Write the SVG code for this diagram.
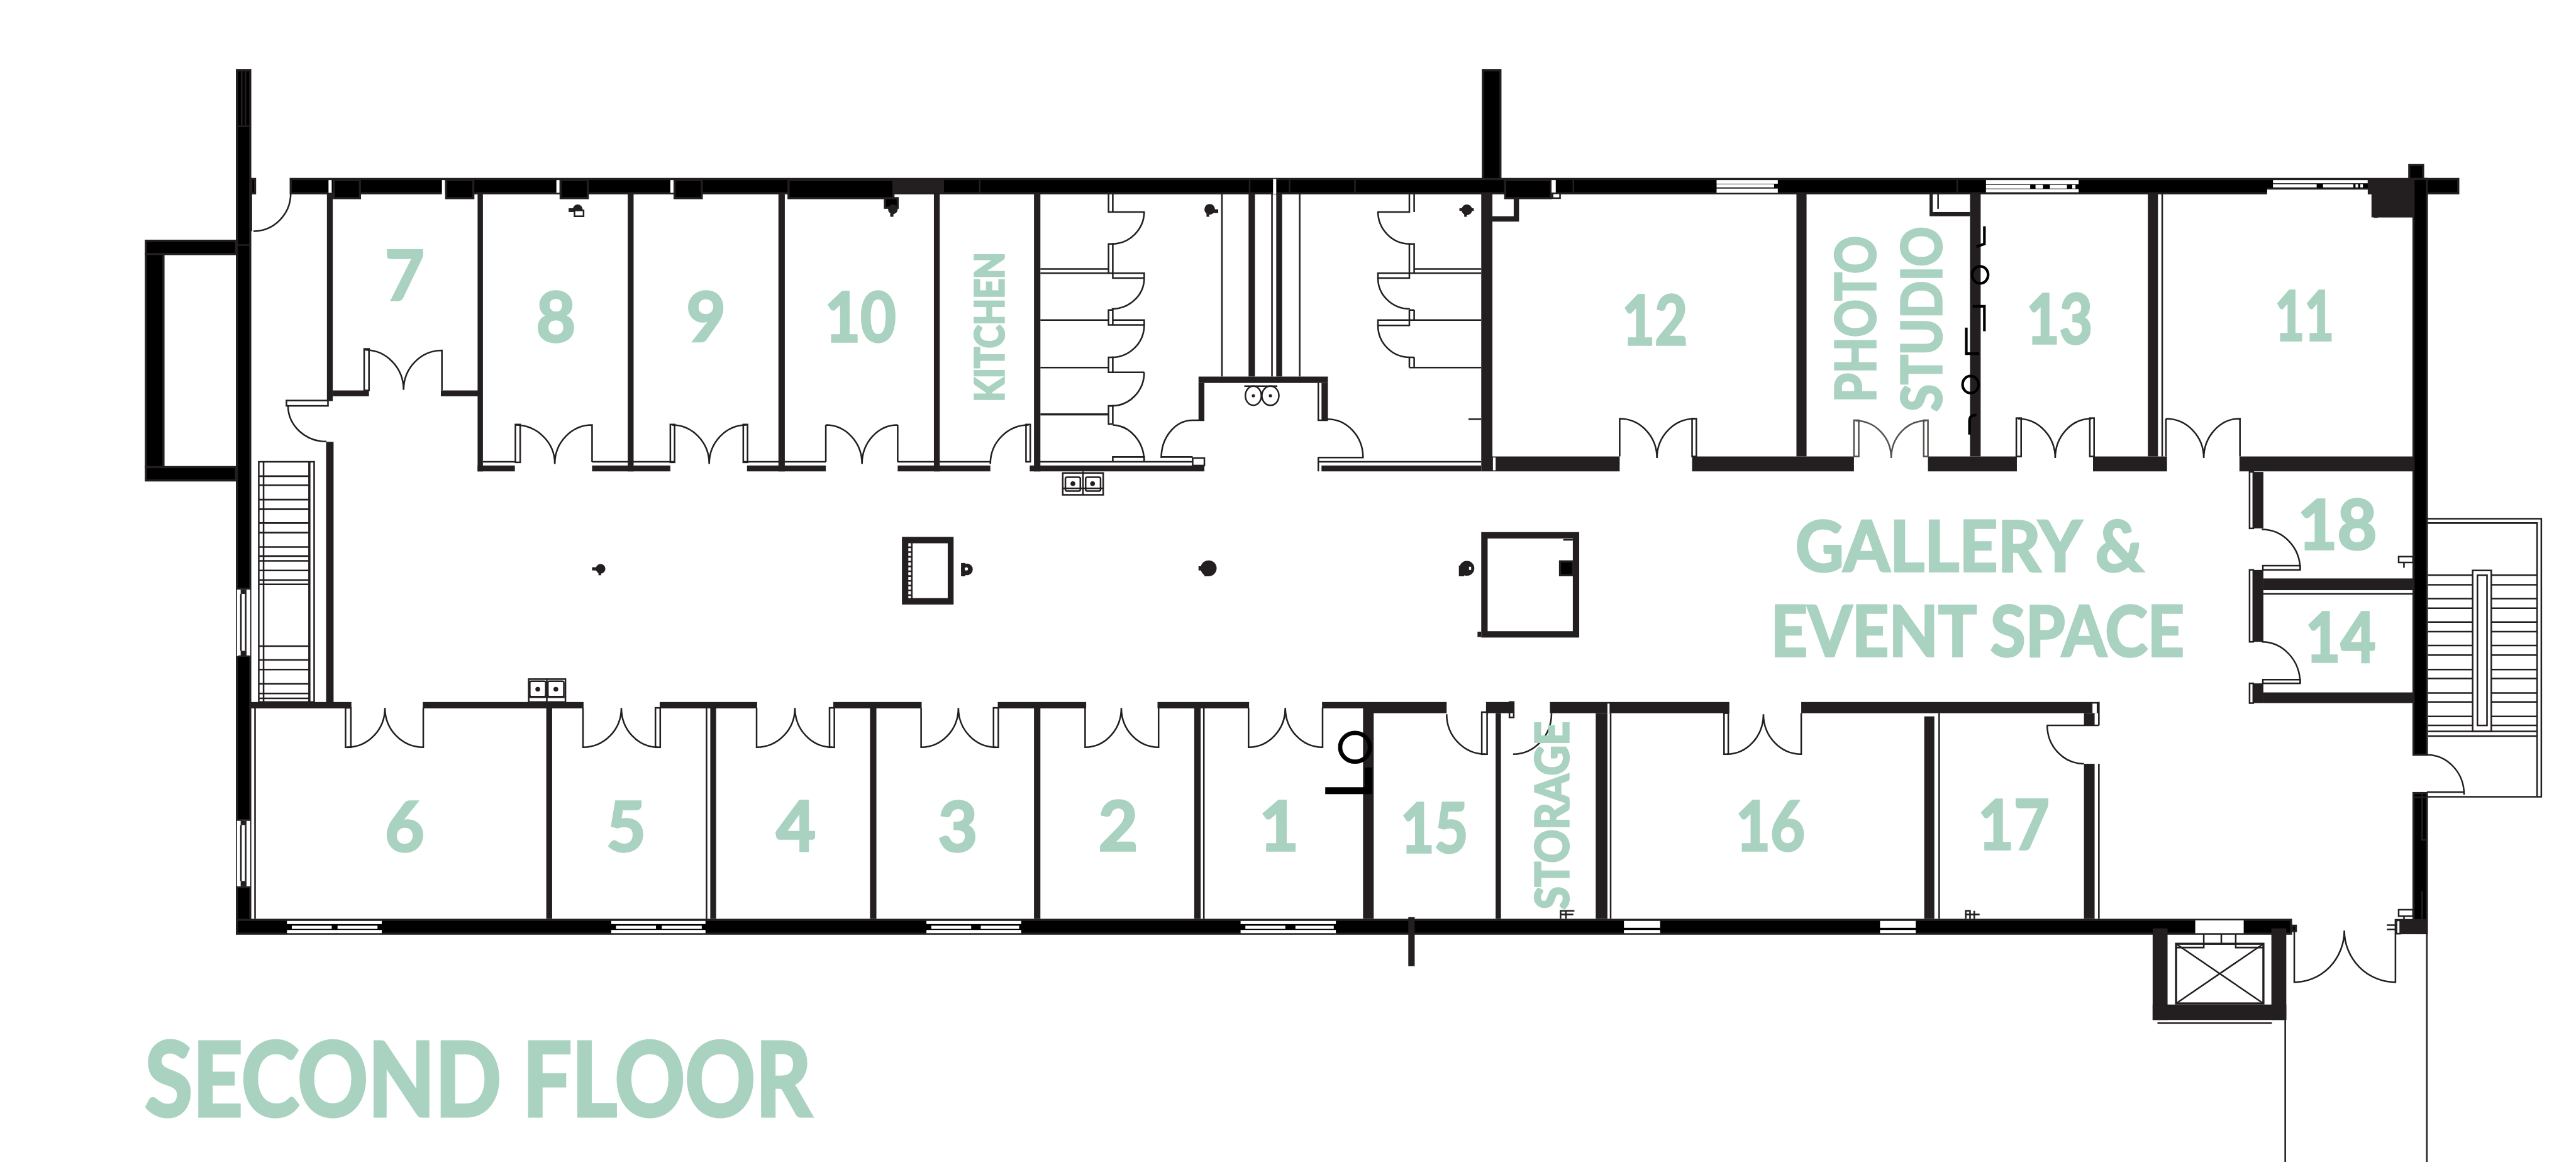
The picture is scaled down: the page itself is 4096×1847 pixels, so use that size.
<svg xmlns="http://www.w3.org/2000/svg" width="4096" height="1847" viewBox="0 0 4096 1847">
<style>
.w{fill:#231f20}
.b{fill:#000;stroke:#231f20;stroke-width:4}
.h{fill:#fff}
.l{fill:none;stroke:#231f20;stroke-width:3}
.t{stroke:#231f20;stroke-width:3;fill:#fff}
.g{fill:none;stroke:#000;stroke-width:5}
.x{font-family:"Lato","Open Sans",sans-serif;font-weight:700;fill:#a9d2c0;stroke:#a9d2c0;stroke-width:4;text-anchor:middle}
.n{font-size:128px}
</style>
<rect width="4096" height="1847" fill="#fff"/>
<g transform="scale(0.84661)">
<g id="outer-walls">
<rect class="b" x="445" y="132" width="25" height="1620"/>
<path class="l" d="M454 132V237M461 132V237M445 237H470M445 460H470"/>
<rect class="b" x="274" y="452" width="169" height="25"/>
<rect class="b" x="274" y="477" width="33" height="400"/>
<rect class="b" x="274" y="877" width="169" height="25"/>
<rect class="b" x="472" y="336" width="7" height="27"/>
<rect class="b" x="546" y="336" width="4071" height="27"/>
<rect class="b" x="4525" y="310" width="26" height="26"/>
<rect class="b" x="2785" y="132" width="33" height="204"/>
<rect class="b" x="4533" y="336" width="25" height="1081"/>
<rect class="b" x="4533" y="1489" width="25" height="263"/>
<path class="l" d="M4533 1497H4558M4549 1489V1577H4558M4549 1673V1733H4533"/>
<rect class="b" x="445" y="1727" width="3858" height="26"/>
<rect class="b" x="4305" y="1738" width="7" height="10"/>
<rect class="w" x="2645" y="1722" width="12" height="92"/>
<rect class="h" x="617" y="338" width="6" height="24"/>
<rect class="b" x="627" y="338" width="49" height="34"/>
<rect class="h" x="830" y="338" width="6" height="34"/>
<rect class="b" x="838" y="338" width="51" height="34"/>
<rect class="h" x="1045" y="338" width="6" height="24"/>
<rect class="b" x="1053" y="338" width="51" height="34"/>
<rect class="h" x="1259" y="338" width="6" height="24"/>
<rect class="b" x="1267" y="338" width="51" height="34"/>
<rect class="b" x="1481" y="338" width="197" height="34"/>
<rect class="b" x="1662" y="372" width="24" height="18"/>
<rect class="w" x="1679" y="336" width="94" height="27"/>
<rect class="h" x="2391" y="336" width="6" height="28"/>
<path class="l" d="M1840 336V363M2347 336V363M2422 336V363M2545 336V363M2955 336V363M3676 336V363"/>
<rect class="b" x="2827" y="338" width="86" height="34"/>
<rect class="h" x="2914" y="338" width="8" height="24"/>
<rect class="t" x="2916" y="363" width="14" height="9"/>
<rect class="h" x="3224" y="338" width="115" height="7"/>
<rect class="h" x="3224" y="346" width="108" height="6"/>
<rect class="h" x="3224" y="354" width="115" height="8"/>
<rect class="h" x="3730" y="338" width="174" height="8"/>
<rect class="h" x="3730" y="347" width="83" height="7"/>
<rect class="h" x="3823" y="347" width="14" height="7"/>
<rect class="h" x="3850" y="347" width="32" height="7"/>
<rect class="h" x="3892" y="347" width="6" height="7"/>
<rect class="h" x="3730" y="355" width="174" height="6"/>
<rect class="h" x="4269" y="338" width="178" height="6"/>
<rect class="h" x="4269" y="346" width="82" height="6"/>
<rect class="h" x="4363" y="346" width="57" height="6"/>
<rect class="h" x="4424" y="346" width="5" height="6"/>
<rect class="h" x="4433" y="346" width="5" height="6"/>
<rect class="h" x="4258" y="355" width="190" height="10"/>
<rect class="w" x="4258" y="353" width="190" height="3"/>
<rect class="w" x="4447" y="338" width="86" height="27"/>
<rect class="w" x="4454" y="363" width="79" height="45"/>
<rect class="b" x="4460" y="363" width="4" height="44"/>
<rect class="b" x="4466" y="402" width="66" height="4"/>
<g id="windows-south">
<rect class="h" x="539" y="1729" width="178" height="6"/><rect class="h" x="548" y="1738" width="75" height="6"/><rect class="h" x="634" y="1738" width="75" height="6"/><rect class="h" x="539" y="1746" width="178" height="6"/>
<rect class="h" x="1148" y="1729" width="177" height="6"/><rect class="h" x="1157" y="1738" width="75" height="6"/><rect class="h" x="1243" y="1738" width="75" height="6"/><rect class="h" x="1148" y="1746" width="177" height="6"/>
<rect class="h" x="1740" y="1729" width="178" height="6"/><rect class="h" x="1749" y="1738" width="75" height="6"/><rect class="h" x="1842" y="1738" width="72" height="6"/><rect class="h" x="1740" y="1746" width="178" height="6"/>
<rect class="h" x="2330" y="1729" width="179" height="6"/><rect class="h" x="2339" y="1738" width="75" height="6"/><rect class="h" x="2433" y="1738" width="72" height="6"/><rect class="h" x="2330" y="1746" width="179" height="6"/>
<rect class="h" x="3050" y="1729" width="68" height="13"/><rect class="h" x="3050" y="1746" width="68" height="6"/>
<rect class="h" x="3531" y="1729" width="67" height="13"/><rect class="h" x="3531" y="1746" width="67" height="6"/>
<rect class="h" x="4123" y="1728" width="91" height="24"/>
</g>
<g id="windows-west">
<rect class="h" x="445" y="1107" width="25" height="125"/>
<path class="l" d="M447 1105H469M447 1232H469"/>
<rect class="w" x="452" y="1107" width="11" height="8"/><rect class="w" x="452" y="1222" width="11" height="10"/>
<rect class="w" x="451" y="1115" width="3" height="107"/><rect class="w" x="460" y="1115" width="3" height="107"/>
<rect class="h" x="445" y="1541" width="25" height="123"/>
<path class="l" d="M447 1539H469M447 1666H469"/>
<rect class="w" x="452" y="1541" width="11" height="8"/><rect class="w" x="452" y="1654" width="11" height="10"/>
<rect class="w" x="451" y="1549" width="3" height="105"/><rect class="w" x="460" y="1549" width="3" height="105"/>
</g>
</g>
<g id="north-rooms">
<rect class="w" x="614" y="363" width="11" height="390"/>
<rect class="w" x="625" y="733" width="68" height="11"/>
<rect class="w" x="828" y="733" width="70" height="11"/>
<rect class="w" x="897" y="363" width="10" height="522"/>
<rect class="w" x="1179" y="363" width="11" height="522"/>
<rect class="w" x="1462" y="363" width="12" height="522"/>
<rect class="w" x="1754" y="363" width="11" height="522"/>
<rect class="w" x="1942" y="363" width="12" height="522"/>
<rect class="w" x="897" y="874" width="70" height="11"/>
<rect class="w" x="1112" y="874" width="147" height="11"/>
<rect class="w" x="1403" y="874" width="148" height="11"/>
<rect class="w" x="1686" y="874" width="174" height="11"/>
<rect class="w" x="1934" y="874" width="328" height="11"/>
<path class="l" d="M907 867H967M1112 867H1267M1396 867H1551M1686 867H1860M1942 867H2262"/>
<rect class="w" x="2482" y="874" width="300" height="11"/>
<path class="l" d="M2476 867H2782M2476 858V885"/>
<rect class="w" x="2345" y="363" width="12" height="344"/>
<rect class="w" x="2397" y="363" width="11" height="344"/>
<path class="l" d="M2295 363V707M2441 363V707M2389 363V707"/>
<rect class="w" x="2251" y="707" width="243" height="12"/>
<rect class="w" x="2251" y="719" width="11" height="70"/>
<rect class="w" x="2482" y="719" width="12" height="70"/>
<path class="l" d="M2476 719V789H2494"/>
<rect class="t" x="2240" y="860" width="22" height="14"/>
<rect class="w" x="2782" y="363" width="21" height="522"/>
<rect class="w" x="2803" y="857" width="239" height="28"/><rect class="h" x="2804" y="859" width="5" height="24"/>
<rect class="w" x="3178" y="857" width="304" height="28"/>
<rect class="w" x="3621" y="857" width="167" height="28"/>
<rect class="w" x="3931" y="857" width="139" height="28"/>
<rect class="w" x="4206" y="857" width="326" height="28"/>
<rect class="w" x="3374" y="363" width="19" height="494"/>
<rect class="w" x="3700" y="363" width="20" height="494"/>
<rect class="w" x="4034" y="363" width="19" height="494"/>
<path class="l" d="M4061 363V857"/>
<path class="w" d="M2843 372H2853V416H2803V406H2843Z"/>
<rect class="w" x="3624" y="363" width="6" height="43"/><rect class="w" x="3630" y="398" width="70" height="8"/>
<path class="l" d="M3640 363V392"/>
</g>
<g id="stalls">
<path class="l" d="M1954 505H2082M1954 513H2082M1954 601H2082M1954 690H2082"/>
<rect class="w" x="1954" y="776" width="128" height="4"/>
<path class="l" d="M2082 363V398H2149M2090 363V398M2149 397A61 61 0 0 1 2088 458"/>
<path class="l" d="M2082 458V513H2090V458Z"/>
<path class="l" d="M2090 513H2149V522H2090ZM2149 522A61 58 0 0 1 2088 580"/>
<path class="l" d="M2082 582V610H2090V582ZM2090 601H2149V610H2090ZM2149 610A61 61 0 0 1 2088 671"/>
<path class="l" d="M2082 671V699H2090V671ZM2082 699H2149M2149 699A61 63 0 0 1 2088 762"/>
<path class="l" d="M2082 762V796H2090V762ZM2090 798A61 69 0 0 1 2149 867M2090 867V858H2149V867"/>
<path class="l" d="M2656 505H2782M2656 513H2782M2647 601H2782M2647 690H2782"/>
<path class="l" d="M2647 363V398H2588M2656 363V398M2588 397A60 61 0 0 0 2648 458"/>
<path class="l" d="M2647 458V513H2656V458Z"/>
<path class="l" d="M2647 513H2588V522H2647ZM2588 522A60 58 0 0 0 2648 580"/>
<path class="l" d="M2647 582V601M2656 582V601M2647 582H2656M2647 601H2588V611H2647ZM2588 611A60 60 0 0 0 2648 671"/>
<path class="l" d="M2647 671V690M2656 671V690M2647 671H2656M2758 787H2782"/>
<ellipse class="l" cx="2354" cy="743" rx="15" ry="18"/><ellipse class="l" cx="2386" cy="743" rx="16" ry="18"/>
<path class="l" d="M2337 725H2399"/>
<circle class="w" cx="2354" cy="743" r="3"/><circle class="w" cx="2386" cy="743" r="3"/>
</g>
<g id="doors-north" class="l">
<path d="M476 434A70 71 0 0 0 546 363M472 363V434"/>
<path d="M541 762A72 67 0 0 0 613 829"/><rect x="538" y="752" width="78" height="10"/>
<rect class="w" x="614" y="831" width="11" height="490"/>
<path d="M686 657A72 75 0 0 1 758 732A72 74 0 0 1 830 658V733"/><rect x="684" y="655" width="9" height="78"/>
<path d="M968 798A74 73 0 0 1 1042 871A70 73 0 0 1 1112 798V867"/><rect x="968" y="797" width="9" height="71"/>
<path d="M1262 798A70 73 0 0 1 1332 871A70 73 0 0 1 1402 798"/><rect x="1259" y="797" width="8" height="71"/><rect x="1396" y="797" width="8" height="71"/>
<path d="M1551 798A68 73 0 0 1 1619 871A67 73 0 0 1 1686 798M1551 798V867M1686 798V867"/>
<path d="M1860 871A72 73 0 0 1 1932 798"/><rect x="1927" y="797" width="8" height="70"/>
<path d="M2181 860A59 71 0 0 1 2240 789H2262"/>
<path d="M2181 858H2240"/>
<path d="M2493 787A67 72 0 0 1 2560 859H2476"/>
<path d="M3042 857V786A70 74 0 0 1 3112 860A71 74 0 0 1 3183 786"/><rect x="3178" y="786" width="8" height="71"/>
<path d="M3485 790A67 70 0 0 1 3552 860A65 70 0 0 1 3617 790" stroke="#55514f"/><rect x="3482" y="789" width="9" height="68" stroke="#55514f"/><rect x="3613" y="789" width="8" height="68" stroke="#55514f"/>
<path d="M3790 786A70 74 0 0 1 3860 860A68 74 0 0 1 3928 786"/><rect x="3787" y="785" width="9" height="72"/><rect x="3925" y="785" width="8" height="72"/>
<path d="M4068 786A71 74 0 0 1 4139 860A68 74 0 0 1 4207 786V857M4068 786V857"/>
</g>
<g id="south-rooms">
<rect class="w" x="470" y="1318" width="190" height="12"/>
<rect class="w" x="794" y="1318" width="302" height="12"/>
<rect class="w" x="1239" y="1318" width="183" height="12"/>
<rect class="w" x="1565" y="1318" width="166" height="12"/>
<rect class="w" x="1874" y="1318" width="166" height="12"/>
<rect class="w" x="2174" y="1318" width="172" height="12"/>
<rect class="w" x="2483" y="1318" width="97" height="12"/>
<rect class="w" x="2579" y="1318" width="138" height="21"/>
<rect class="w" x="2791" y="1318" width="53" height="21"/>
<rect class="w" x="2911" y="1318" width="337" height="21"/>
<rect class="w" x="3383" y="1318" width="559" height="21"/>
<rect class="h" x="3019" y="1321" width="4" height="18"/>
<rect class="h" x="3930" y="1321" width="8" height="18"/>
<rect class="w" x="1026" y="1329" width="11" height="396"/>
<rect class="w" x="1334" y="1329" width="11" height="396"/>
<rect class="w" x="1634" y="1329" width="12" height="396"/>
<rect class="w" x="1942" y="1329" width="12" height="396"/>
<rect class="w" x="2243" y="1329" width="12" height="396"/>
<rect class="w" x="2560" y="1329" width="20" height="396"/>
<rect class="w" x="2809" y="1339" width="10" height="386"/>
<rect class="w" x="2997" y="1339" width="22" height="386"/>
<rect class="w" x="3614" y="1345" width="19" height="380"/>
<rect class="w" x="3914" y="1339" width="20" height="23"/>
<rect class="w" x="3914" y="1434" width="20" height="291"/>
<path class="l" d="M479 1329V1725M1327 1329V1725M2261 1329V1725M3025 1339V1725M3642 1339V1725M3942 1318V1362M3942 1434V1725"/>
<ellipse cx="2545" cy="1403" rx="28" ry="27" fill="none" stroke="#000" stroke-width="8"/>
<rect x="2489" y="1478" width="76" height="13" fill="#000"/><rect x="2563" y="1441" width="14" height="50" fill="#000"/>
<path class="l" d="M3844 1362H3942M3845 1362A69 72 0 0 0 3914 1434"/>
</g>
<g id="doors-south" class="l">
<path d="M652 1403A71 74 0 0 0 723 1329A72 74 0 0 0 795 1403V1329"/><rect x="649" y="1329" width="10" height="74"/>
<path d="M1095 1329V1403A72 74 0 0 0 1167 1329A69 74 0 0 0 1236 1403"/><rect x="1231" y="1329" width="9" height="74"/>
<path d="M1421 1329V1403A72 74 0 0 0 1493 1329A70 74 0 0 0 1563 1403"/><rect x="1558" y="1329" width="9" height="74"/>
<path d="M1730 1329V1403A70 74 0 0 0 1800 1329A70 74 0 0 0 1870 1403"/><rect x="1866" y="1329" width="9" height="74"/>
<path d="M2038 1329V1403A68 74 0 0 0 2106 1329A70 74 0 0 0 2176 1403V1329"/>
<path d="M2345 1329V1403A69 74 0 0 0 2414 1329A70 74 0 0 0 2484 1403V1329"/>
<path d="M2717 1341A73 75 0 0 0 2790 1416"/><rect x="2783" y="1337" width="10" height="79"/>
<path d="M2842 1416A72 77 0 0 0 2914 1339"/><rect x="2835" y="1318" width="8" height="29"/>
<path d="M3243 1416A69 75 0 0 0 3312 1341A71 75 0 0 0 3383 1416V1339"/><rect x="3238" y="1339" width="8" height="77"/>
</g>
<g id="east-rooms">
<rect class="w" x="4231" y="886" width="20" height="106"/><rect class="t" x="4225" y="886" width="7" height="106"/>
<path class="l" d="M4248 994A72 75 0 0 1 4320 1069"/><rect class="t" x="4250" y="1062" width="70" height="8"/>
<rect class="w" x="4231" y="1070" width="20" height="135"/><rect class="t" x="4225" y="1070" width="7" height="135"/>
<rect class="w" x="4251" y="1086" width="281" height="22"/><path class="l" d="M4251 1115H4532"/>
<path class="l" d="M4248 1205A72 78 0 0 1 4320 1283"/><rect class="t" x="4250" y="1276" width="70" height="7"/>
<rect class="w" x="4231" y="1283" width="20" height="37"/><rect class="t" x="4225" y="1283" width="7" height="37"/>
<rect class="w" x="4251" y="1300" width="281" height="20"/>
<path class="l" d="M4505 1045H4532V1056H4505ZM4515 1056V1066"/>
<path class="l" d="M4505 1708H4532V1720H4505ZM4515 1720V1726"/>
<path class="l" d="M4483 1737H4499M4483 1745H4499"/>
</g>
<g id="stair-east" class="l">
<path d="M4558 974H4773V1496H4558M4558 982H4765V1496"/>
<path d="M4560 1080H4765M4560 1098H4765M4560 1124H4765M4560 1142H4765M4560 1168H4765M4560 1186H4765M4560 1212H4765M4560 1230H4765M4560 1257H4765M4560 1274H4765M4560 1301H4765M4560 1318H4765M4560 1345H4765M4560 1362H4765M4560 1373H4765M4560 1382H4765"/>
<rect class="t" x="4644" y="1071" width="35" height="302"/>
<rect class="t" x="4653" y="1080" width="18" height="282"/>
<path d="M4558 1417A70 75 0 0 1 4628 1492M4558 1487H4628"/>
</g>
<g id="stair-west">
<rect class="t" x="486" y="867" width="104" height="451"/>
<path class="l" d="M495 867V1318M581 867V1318"/>
<rect class="w" x="579" y="867" width="4" height="451"/>
<path class="l" d="M486 894H581M486 911H581M486 938H581M486 956H581M486 982H581M486 1000H581M486 1027H581M486 1044H581M486 1053H581M486 1071H581M486 1089H581M486 1097H581M486 1213H581M486 1239H581M486 1257H581M486 1284H581M486 1302H581M486 1311H581"/>
</g>
<g id="pillars">
<rect class="w" x="1694" y="1008" width="97" height="127"/>
<rect class="h" x="1714" y="1020" width="66" height="103"/>
<path d="M1708.500 1020V1123" stroke="#fff" stroke-width="5" stroke-dasharray="6 3" fill="none"/>
<rect class="w" x="2782" y="999" width="184" height="198"/>
<rect class="h" x="2794" y="1011" width="160" height="174"/>
<rect class="w" x="2775" y="1186" width="7" height="10"/>
<rect class="b" x="2930" y="1054" width="24" height="26"/>
<rect class="w" x="2936" y="1012" width="18" height="3"/>
<g id="columns">
<circle class="w" cx="1816" cy="1069" r="11"/><rect class="w" x="1805" y="1057" width="8" height="25"/><circle class="h" cx="1815" cy="1068" r="3"/>
<circle class="w" cx="2270" cy="1067" r="15"/><rect class="w" x="2251" y="1063" width="14" height="8"/><rect class="w" x="2262" y="1070" width="8" height="12"/>
<circle class="w" cx="2755" cy="1067" r="14"/><rect class="w" x="2740" y="1062" width="10" height="20"/><rect class="h" x="2759" y="1064" width="4" height="6"/>
<circle class="w" cx="1085" cy="393" r="9"/><rect class="w" x="1068" y="391" width="26" height="7"/><rect class="t" x="1079" y="395" width="17" height="11"/>
<circle class="w" cx="1677" cy="393" r="9"/><rect class="w" x="1672" y="395" width="6" height="12"/>
<circle class="w" cx="2272" cy="393" r="10"/><rect class="w" x="2270" y="393" width="18" height="7"/><rect class="w" x="2266" y="398" width="5" height="9"/>
<circle class="w" cx="2755" cy="394" r="10"/><rect class="w" x="2741" y="391" width="27" height="5"/><rect class="w" x="2750" y="396" width="5" height="11"/>
<circle class="w" cx="1128" cy="1068" r="9"/><rect class="w" x="1112" y="1065" width="14" height="6"/><rect class="w" x="1124" y="1070" width="5" height="10"/>
</g>
<g class="l" id="sink-north">
<rect class="t" x="1996" y="888" width="76" height="41"/>
<path d="M2034 885V929M1996 917H2072"/>
<rect x="2001" y="896" width="28" height="26" rx="3"/><rect x="2039" y="896" width="28" height="26" rx="3"/>
<circle class="w" cx="2015" cy="908" r="3"/><circle class="w" cx="2052" cy="908" r="3"/>
</g>
<g class="l" id="sink-south">
<rect class="t" x="993" y="1275" width="69" height="43"/>
<path d="M1027 1275V1318M993 1309H1062"/>
<rect x="995" y="1279" width="30" height="29" rx="3"/><rect x="1029" y="1279" width="30" height="29" rx="3"/>
<circle class="w" cx="1010" cy="1294" r="3"/><circle class="w" cx="1044" cy="1294" r="3"/>
</g>
<path class="l" d="M2931 1725V1710H2957M2941 1710V1725M2931 1717H2955"/>
<path class="l" d="M3692 1725V1710H3700V1725M3708 1710V1725M3692 1717H3718"/>
</g>
<g class="g" id="wall-marks">
<path d="M3727 425V458L3712 463"/>
<ellipse cx="3719" cy="516" rx="15" ry="16"/>
<path d="M3705 575H3727V622"/>
<path d="M3693 615V664H3717"/>
<ellipse cx="3701" cy="722" rx="15" ry="16"/>
<path d="M3699 816V790Q3699 779 3712 779"/>
</g>
<g id="elevator">
<rect class="w" x="4043" y="1743" width="28" height="172"/>
<rect class="w" x="4266" y="1743" width="28" height="172"/>
<rect class="w" x="4043" y="1886" width="251" height="29"/>
<g class="l">
<rect x="4087" y="1772" width="164" height="112" stroke-width="4"/>
<path d="M4087 1772L4251 1884M4251 1772L4087 1884"/>
<path d="M4087 1779H4139V1754M4251 1779H4199V1754M4139 1772H4199M4172 1754V1772"/>
<path d="M4052 1921H4267M4292 1915V2182M4558 1752V2182"/>
<path d="M4309 1748V1844A94 97 0 0 0 4403 1747A96 97 0 0 0 4499 1844V1727H4558"/>
</g>
<rect class="w" x="4508" y="1727" width="50" height="27"/>
<rect class="t" x="4501" y="1728" width="7" height="25"/>
</g>
<g id="labels">
<text class="x n" x="760" y="563">7</text>
<text class="x n" x="1044" y="641">8</text>
<text class="x n" x="1326" y="641">9</text>
<text class="x n" x="1616" y="641" textLength="134" lengthAdjust="spacingAndGlyphs">10</text>
<text class="x" font-size="74" x="0" y="0" transform="translate(1885 614) rotate(-90)" textLength="281" lengthAdjust="spacingAndGlyphs">KITCHEN</text>
<text class="x n" x="3108" y="647" textLength="123" lengthAdjust="spacingAndGlyphs">12</text>
<text class="x" font-size="104" x="0" y="0" transform="translate(3522 599) rotate(-90)" textLength="312" lengthAdjust="spacingAndGlyphs">PHOTO</text>
<text class="x" font-size="104" x="0" y="0" transform="translate(3646 599) rotate(-90)" textLength="347" lengthAdjust="spacingAndGlyphs">STUDIO</text>
<text class="x n" x="3868" y="645" textLength="124" lengthAdjust="spacingAndGlyphs">13</text>
<text class="x n" x="4328" y="639" textLength="111" lengthAdjust="spacingAndGlyphs">11</text>
<text class="x" font-size="132" x="3699" y="1072" textLength="654" lengthAdjust="spacingAndGlyphs">GALLERY &amp;</text>
<text class="x" font-size="132" x="3714" y="1232" textLength="777" lengthAdjust="spacingAndGlyphs">EVENT SPACE</text>
<text class="x n" x="4390" y="1031" textLength="149" lengthAdjust="spacingAndGlyphs">18</text>
<text class="x n" x="4396" y="1243" textLength="132" lengthAdjust="spacingAndGlyphs">14</text>
<text class="x n" x="760" y="1598">6</text>
<text class="x n" x="1176" y="1598">5</text>
<text class="x n" x="1495" y="1597">4</text>
<text class="x n" x="1799" y="1598">3</text>
<text class="x n" x="2100" y="1597">2</text>
<text class="x n" x="2402" y="1597">1</text>
<text class="x n" x="2694" y="1601" textLength="127" lengthAdjust="spacingAndGlyphs">15</text>
<text class="x" font-size="86" x="0" y="0" transform="translate(2946 1531) rotate(-90)" textLength="352" lengthAdjust="spacingAndGlyphs">STORAGE</text>
<text class="x n" x="3325" y="1597" textLength="130" lengthAdjust="spacingAndGlyphs">16</text>
<text class="x n" x="3782" y="1595" textLength="134" lengthAdjust="spacingAndGlyphs">17</text>
<text class="x" font-size="192" style="stroke-width:6" x="898" y="2096" textLength="1252" lengthAdjust="spacingAndGlyphs">SECOND FLOOR</text>
</g>
</g>
</svg>
